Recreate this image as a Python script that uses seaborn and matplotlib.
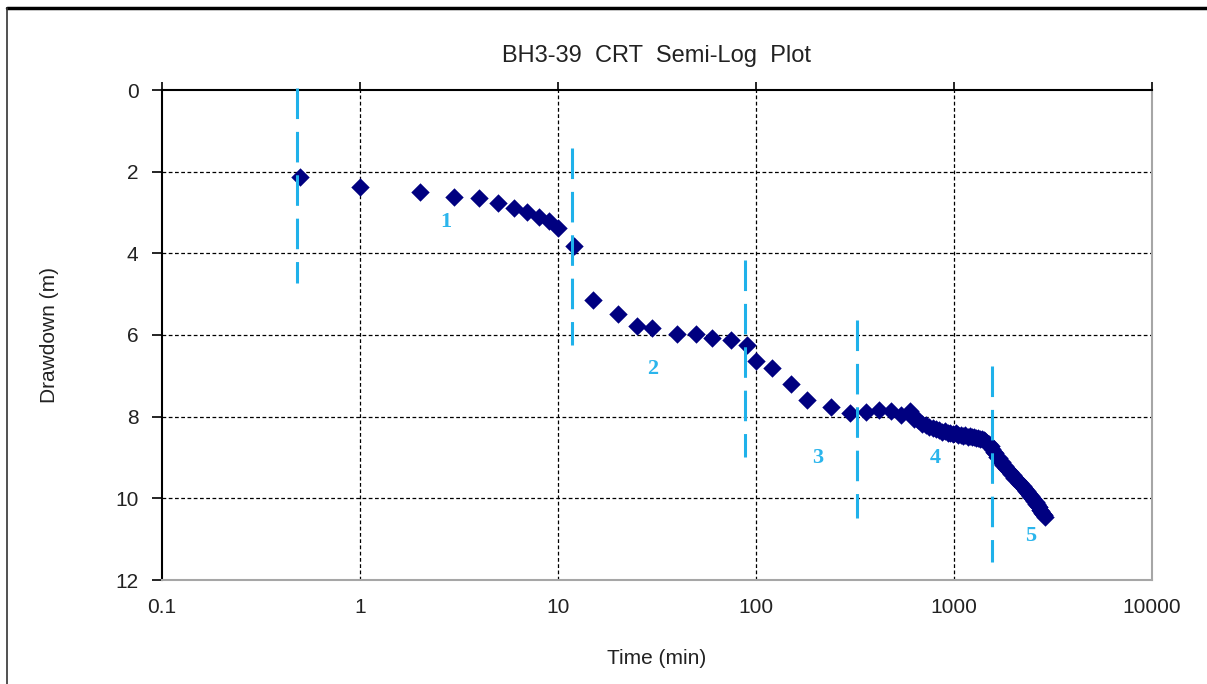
import matplotlib
matplotlib.use("Agg")
import matplotlib.pyplot as plt
from matplotlib.lines import Line2D
import seaborn as sns
import pandas as pd

# ---- data ----
time_min = [0.5, 1, 2, 3, 4, 5, 6, 7, 8, 9, 10, 12, 15, 20, 25, 30, 40, 50, 60, 75,
            90, 100, 120, 150, 180, 240, 300, 360, 420, 480, 540, 600,
            630, 660, 690, 720, 750, 780, 810, 840, 870, 900, 930, 960, 990, 1020,
            1050, 1080, 1110, 1140, 1170, 1200, 1230, 1260, 1290, 1320, 1350, 1380,
            1410, 1440, 1470, 1500, 1530, 1560, 1590, 1620, 1650, 1680, 1710, 1740,
            1770, 1800, 1830, 1860, 1890, 1920, 1950, 1980, 2010, 2040, 2070, 2100,
            2130, 2160, 2190, 2220, 2250, 2280, 2310, 2340, 2370, 2400, 2430, 2460,
            2490, 2520, 2550, 2580, 2610, 2640, 2670, 2700, 2730, 2760, 2790, 2820,
            2850, 2880]
drawdown_m = [2.13, 2.37, 2.50, 2.61, 2.65, 2.77, 2.88, 2.99, 3.12, 3.21, 3.37, 3.82,
              5.14, 5.49, 5.78, 5.82, 5.98, 5.98, 6.07, 6.12, 6.25, 6.63, 6.81, 7.20,
              7.60, 7.77, 7.92, 7.89, 7.84, 7.87, 7.97, 7.85,
              8.06, 8.09, 8.18, 8.20, 8.26, 8.27, 8.31, 8.32, 8.37, 8.36, 8.39, 8.40,
              8.42, 8.41, 8.44, 8.45, 8.47, 8.46, 8.49, 8.48, 8.51, 8.50, 8.53, 8.52,
              8.55, 8.55, 8.58, 8.60, 8.64, 8.67, 8.73, 8.78, 8.86, 8.90, 8.98, 9.02,
              9.09, 9.12, 9.18, 9.21, 9.26, 9.28, 9.34, 9.36, 9.41, 9.43, 9.49, 9.51,
              9.56, 9.57, 9.62, 9.63, 9.68, 9.70, 9.75, 9.77, 9.82, 9.83, 9.88, 9.89,
              9.94, 9.95, 10.00, 10.02, 10.07, 10.08, 10.13, 10.15, 10.20, 10.22,
              10.28, 10.30, 10.36, 10.38, 10.42, 10.45]

# segment divider lines (time, top drawdown, bottom drawdown)
divider_time = [0.48, 11.8, 88, 322, 1560]
divider_top = [-0.05, 1.42, 4.17, 5.64, 6.76]
divider_bottom = [4.73, 6.25, 9.00, 10.47, 11.57]

# segment labels
segment_labels = ["1", "2", "3", "4", "5"]
label_time = [2.72, 30.2, 205, 802, 2450]
label_drawdown = [3.24, 6.84, 9.02, 9.02, 10.93]

x_ticks = [0.1, 1, 10, 100, 1000, 10000]
x_tick_labels = ["0.1", "1", "10", "100", "1000", "10000"]
y_ticks = [0, 2, 4, 6, 8, 10, 12]

title = "BH3-39  CRT  Semi-Log  Plot"
x_label = "Time (min)"
y_label = "Drawdown (m)"

# ---- style ----
sns.set_theme(style="white")
plt.rcParams["font.family"] = ["Liberation Sans", "DejaVu Sans"]

fig = plt.figure(figsize=(12.07, 6.84), dpi=100)
ax = fig.add_axes([162 / 1207, 1 - 580 / 684, (1152 - 162) / 1207, (580 - 90) / 684])

df = pd.DataFrame({"t": time_min, "s": drawdown_m})

ax.set_xscale("log")
ax.set_xlim(0.1, 10000)
ax.set_ylim(12, 0)
ax.set_axisbelow(True)
for xv in x_ticks[1:-1]:
    ax.axvline(xv, color="black", lw=0.9, ls=(0, (3, 2)), zorder=0)
for yv in y_ticks[1:-1]:
    ax.axhline(yv, color="black", lw=0.9, ls=(0, (3, 2)), zorder=0)

sns.scatterplot(data=df, x="t", y="s", marker="D", color="#000080", s=88,
                linewidth=0, ax=ax, zorder=3)

for xt, y0, y1 in zip(divider_time, divider_top, divider_bottom):
    ax.plot([xt, xt], [y0, y1], color="#1FB1EA", lw=2.2, ls=(0, (10, 4.2)),
            zorder=4, clip_on=False)

for lab, xt, yv in zip(segment_labels, label_time, label_drawdown):
    ax.text(xt, yv, lab, color="#2BB5EC", fontsize=16, fontweight="bold",
            family=["Liberation Serif", "DejaVu Serif"], ha="center", va="center",
            zorder=5)

ax.set_xticks(x_ticks)
ax.set_xticklabels(x_tick_labels)
ax.xaxis.set_minor_locator(matplotlib.ticker.NullLocator())
ax.set_yticks(y_ticks)
ax.set_yticklabels([str(v) for v in y_ticks])

ax.tick_params(axis="x", which="both", top=True, bottom=False, labeltop=False,
               labelbottom=True, direction="out", length=6, width=1.2,
               color="black", pad=7, labelsize=15, labelcolor="#222222")
ax.tick_params(axis="y", left=True, right=False, direction="out", length=7,
               width=1.2, color="black", pad=10, labelsize=15, labelcolor="#222222")

ax.set_xlabel(x_label, fontsize=15, color="#222222", labelpad=23)
ax.set_ylabel(y_label, fontsize=15, color="#222222", labelpad=40)
ax.set_title(title, fontsize=17, color="#222222", pad=20)

for side in ["left", "top"]:
    ax.spines[side].set_color("black")
    ax.spines[side].set_linewidth(1.5)
for side in ["bottom", "right"]:
    ax.spines[side].set_color("#A6A6A6")
    ax.spines[side].set_linewidth(1.5)
    ax.spines[side].set_visible(True)

# outer frame: thick line at top, thin line at left
fig.add_artist(Line2D([7 / 1207, 1.0], [1 - 8 / 684, 1 - 8 / 684],
                      transform=fig.transFigure, color="black", lw=2.5))
fig.add_artist(Line2D([7 / 1207, 7 / 1207], [0, 1 - 8 / 684],
                      transform=fig.transFigure, color="#333333", lw=1.2))

fig.savefig("out.png", dpi=100)
